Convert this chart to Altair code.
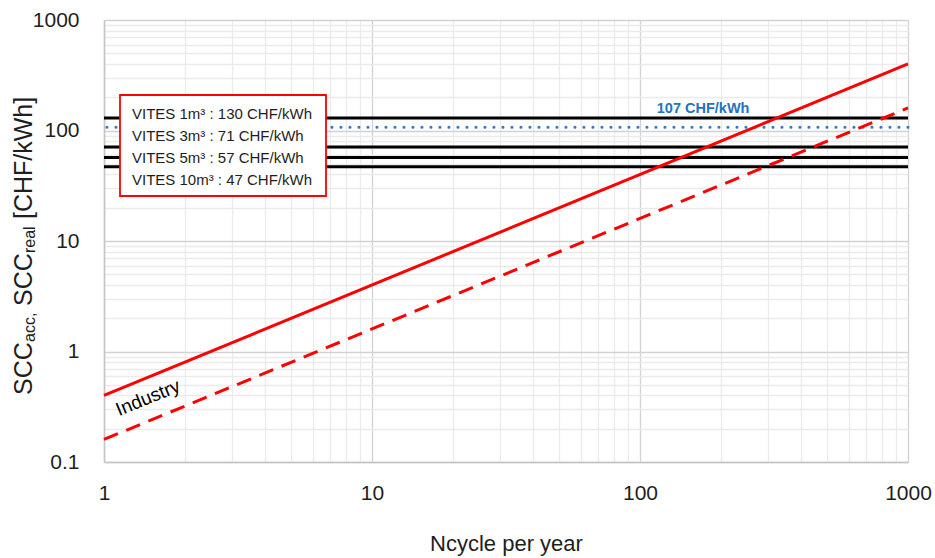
import altair as alt
import pandas as pd

FONT = "Liberation Sans, Arial, sans-serif"
TXT = "#1e1e1e"

# ---- data ----
n_cycle = [1, 1000]
scc_acc = [0.4, 400]      # solid red line
scc_real = [0.16, 160]    # dashed red line

vites_labels = [
    "VITES 1m³ : 130 CHF/kWh",
    "VITES 3m³ : 71 CHF/kWh",
    "VITES 5m³ : 57 CHF/kWh",
    "VITES 10m³ : 47 CHF/kWh",
]
vites_values = [130, 71, 57, 47]

ref_value = [107]
ref_label = ["107 CHF/kWh"]
ref_label_x = [172]
ref_label_y = [158]

industry_label = ["Industry"]
industry_x = [1.46]
industry_y = [0.38]

x_major = [1, 10, 100, 1000]
y_major = [0.1, 1, 10, 100, 1000]
x_ticks = [m * 10 ** e for e in range(0, 3) for m in range(1, 10)] + [1000]
y_ticks = [round(m * 10.0 ** e, 1) for e in range(-1, 3) for m in range(1, 10)] + [1000]

# ---- scales / axes ----
xscale = alt.Scale(type="log", domain=[1, 1000], nice=False)
yscale = alt.Scale(type="log", domain=[0.1, 1000], nice=False)


def grid_color(major):
    return {"condition": {"test": f"indexof({major}, datum.value) >= 0", "value": "#d2d2d2"},
            "value": "#ebebeb"}


xaxis = alt.Axis(values=x_ticks, format="~g",
                 labelExpr=f"indexof({x_major}, datum.value) >= 0 ? datum.label : ''",
                 gridColor=grid_color(x_major), gridWidth=1.3, ticks=False,
                 domainColor="#c4c4c4", domainWidth=1.5,
                 labelFont=FONT, labelFontSize=21, labelColor=TXT, labelPadding=20,
                 labelFlush=False, labelOverlap=False,
                 title="Ncycle per year", titleFont=FONT, titleFontSize=22,
                 titleFontWeight="normal", titleColor=TXT, titlePadding=30)
yaxis = alt.Axis(values=y_ticks, format="~g",
                 labelExpr=f"indexof({y_major}, datum.value) >= 0 ? datum.label : ''",
                 gridColor=grid_color(y_major), gridWidth=1.3, ticks=False,
                 domainColor="#c4c4c4", domainWidth=1.5,
                 labelFont=FONT, labelFontSize=21, labelColor=TXT, labelPadding=25,
                 labelFlush=False, labelOverlap=False, title=None)


def X(f):
    return alt.X(f, type="quantitative", scale=xscale, axis=xaxis)


def Y(f):
    return alt.Y(f, type="quantitative", scale=yscale, axis=yaxis)


lines_df = pd.DataFrame({"n": n_cycle, "acc": scc_acc, "real": scc_real})
rules_df = pd.DataFrame({"label": vites_labels, "value": vites_values})
ref_df = pd.DataFrame({"value": ref_value})
ref_lab_df = pd.DataFrame({"x": ref_label_x, "y": ref_label_y, "t": ref_label})
ind_df = pd.DataFrame({"x": industry_x, "y": industry_y, "t": industry_label})
one = pd.DataFrame({"k": [0]})

rules = alt.Chart(rules_df).mark_rule(strokeWidth=3).encode(
    y=Y("value"),
    color=alt.Color("label:N",
                    scale=alt.Scale(domain=vites_labels, range=["#000000"] * 4),
                    legend=alt.Legend(title=None, orient="none", legendX=13, legendY=86,
                                      symbolType="circle", symbolSize=0,
                                      symbolStrokeWidth=0, symbolOpacity=0,
                                      labelOffset=0, labelFont=FONT, labelFontSize=15,
                                      labelColor=TXT, labelLimit=400, padding=0,
                                      rowPadding=6.3, zindex=2)),
)

# red-framed white box behind the legend text
legend_box = alt.Chart(one).mark_rect(fill="#ffffff", stroke="#ff0000",
                                      strokeWidth=1.8).encode(
    x=alt.value(16), x2=alt.value(222), y=alt.value(75), y2=alt.value(176))

ref_rule = alt.Chart(ref_df).mark_rule(color="#2e7bcb", strokeWidth=3,
                                       strokeDash=[0.1, 8.9], strokeCap="round").encode(
    y=Y("value"))

solid = alt.Chart(lines_df).mark_line(color="#ff0000", strokeWidth=3).encode(
    x=X("n"), y=Y("acc"))
dashed = alt.Chart(lines_df).mark_line(color="#ff0000", strokeWidth=3,
                                       strokeDash=[15, 9]).encode(x=X("n"), y=Y("real"))

ref_text = alt.Chart(ref_lab_df).mark_text(font=FONT, fontSize=14.5, fontWeight="bold",
                                           color="#2672c0").encode(
    x=X("x"), y=Y("y"), text="t:N")

ind_text = alt.Chart(ind_df).mark_text(font=FONT, fontSize=19, angle=337.6,
                                       color="#000000").encode(
    x=X("x"), y=Y("y"), text="t:N")

# y-axis title with subscripts, built from pieces (text, y px, x px, font size)
ytitle_pieces = [
    ("SCC", 375, -72, 25),
    ("acc,", 322, -69, 16),
    ("SCC", 286, -72, 25),
    ("real", 233, -69, 16),
    ("[CHF/kWh]", 199, -72, 25),
]
ytitle_layers = [
    alt.Chart(one).mark_text(text=t, font=FONT, fontSize=fs, angle=270, align="left",
                             baseline="alphabetic", color=TXT).encode(
        x=alt.value(px), y=alt.value(py))
    for (t, py, px, fs) in ytitle_pieces
]

chart = alt.layer(rules, ref_rule, legend_box, solid, dashed, ref_text, ind_text,
                  *ytitle_layers).properties(
    width=804, height=442,
    autosize=alt.AutoSizeParams(type="none"),
    padding={"left": 104, "top": 20, "right": 27, "bottom": 96},
    background="#ffffff",
).configure_view(stroke=None).configure_legend(
    symbolSize=0, symbolStrokeWidth=0, labelOffset=0
)

chart.save("out.html", embed_options={"renderer": "svg", "actions": False})
